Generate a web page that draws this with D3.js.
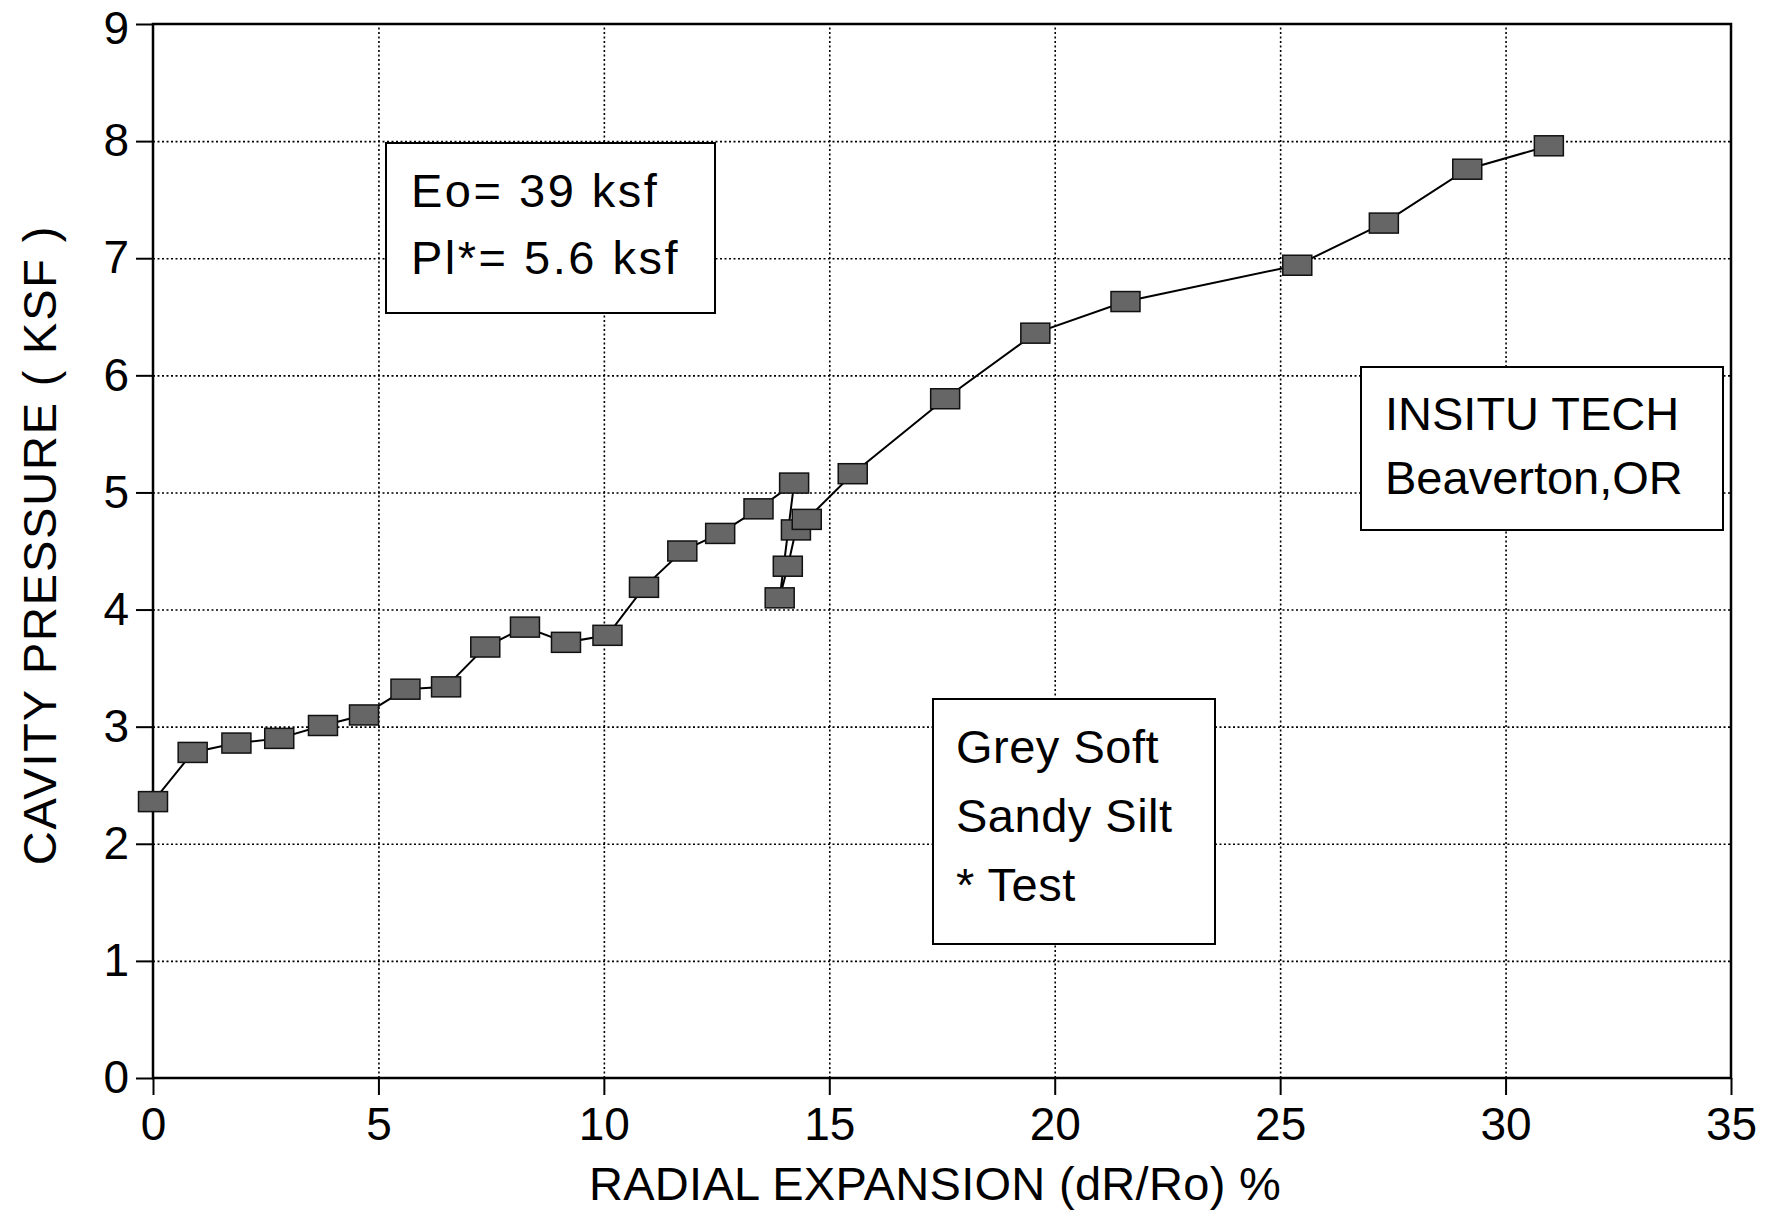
<!doctype html>
<head>
  <title>pressuremeter curve</title>
</head>

<style>
  body { margin: 0px; background-color: white; }
  text { font-family: "Liberation Sans", Arial, sans-serif; fill: black; }
  .grid line { stroke: black; stroke-width: 1.6; stroke-dasharray: 2,2.5; }
  .grid path { display: none; }
  .axis path { display: none; }
  .axis line { stroke: black; stroke-width: 2; }
</style>
<body>
  <script src="https://cdn.jsdelivr.net/npm/d3@7"></script>

  <svg id="chart" width="1771" height="1214"></svg>

  <script>

  // radial expansion (%) and cavity pressure (ksf), in test order (incl. unload/reload loop)
  const expansion = [0, 0.88, 1.85, 2.8, 3.77, 4.68, 5.6, 6.5, 7.37, 8.25, 9.16, 10.08, 10.89, 11.74, 12.58, 13.43, 14.22,
                     13.9, 14.08, 14.26, 14.5, 15.52, 17.57, 19.57, 21.57, 25.38, 27.3, 29.15, 30.96];
  const pressure  = [2.36, 2.78, 2.86, 2.9, 3.01, 3.1, 3.32, 3.34, 3.68, 3.85, 3.72, 3.78, 4.19, 4.5, 4.65, 4.86, 5.08,
                     4.1, 4.37, 4.68, 4.77, 5.16, 5.8, 6.36, 6.63, 6.94, 7.3, 7.76, 7.96];

  const xTicks = [0, 5, 10, 15, 20, 25, 30, 35];
  const yTicks = [0, 1, 2, 3, 4, 5, 6, 7, 8, 9];

  const xTitle = "RADIAL EXPANSION (dR/Ro) %";
  const yTitle = "CAVITY PRESSURE ( KSF )";

  const noteModulus = ["Eo= 39 ksf", "Pl*= 5.6 ksf"];
  const noteCompany = ["INSITU TECH", "Beaverton,OR"];
  const noteSoil    = ["Grey Soft", "Sandy Silt", "* Test"];

  let svg = d3.select("#chart");

  let plotL = 153, plotR = 1731, plotT = 24, plotB = 1078;

  let x = d3.scaleLinear().domain([0, 35]).range([plotL, plotR]);
  let y = d3.scaleLinear().domain([0, 9]).range([plotB, plotT]);

  // dotted grid
  svg.append("g")
    .attr("class", "grid")
    .attr("transform", "translate(0," + plotB + ")")
    .call(d3.axisBottom(x).tickValues(xTicks.slice(1, -1)).tickSize(-(plotB - plotT)).tickFormat(""));

  svg.append("g")
    .attr("class", "grid")
    .attr("transform", "translate(" + plotL + ",0)")
    .call(d3.axisLeft(y).tickValues(yTicks.slice(1, -1)).tickSize(-(plotR - plotL)).tickFormat(""));

  // text boxes sit on top of the grid, white filled
  function noteBox(x0, y0, x1, y1, lines, tx, ty, step, spacing) {
    let g = svg.append("g");
    g.append("rect")
      .attr("x", x0).attr("y", y0)
      .attr("width", x1 - x0).attr("height", y1 - y0)
      .attr("fill", "white")
      .attr("stroke", "black")
      .attr("stroke-width", 2);
    g.selectAll("text")
      .data(lines)
      .enter()
      .append("text")
      .attr("x", tx)
      .attr("y", (d, i) => ty + i * step)
      .attr("font-size", 47)
      .attr("letter-spacing", spacing)
      .text(d => d);
  }

  noteBox(386, 143, 715, 313, noteModulus, 411, 207, 67, 2.5);
  noteBox(1361, 367, 1723, 530, noteCompany, 1385, 430, 64, 0);
  noteBox(933, 699, 1215, 944, noteSoil, 956, 763, 69, 0.5);

  // frame
  svg.append("rect")
    .attr("x", plotL).attr("y", plotT)
    .attr("width", plotR - plotL).attr("height", plotB - plotT)
    .attr("fill", "none")
    .attr("stroke", "black")
    .attr("stroke-width", 2.5);

  // axes
  svg.append("g")
    .attr("class", "axis")
    .attr("transform", "translate(0," + plotB + ")")
    .call(d3.axisBottom(x).tickValues(xTicks).tickSize(17).tickSizeOuter(0).tickPadding(12))
    .selectAll("text")
    .attr("font-size", 46)
    .attr("font-family", "Liberation Sans, Arial, sans-serif");

  svg.append("g")
    .attr("class", "axis")
    .attr("transform", "translate(" + plotL + ",0)")
    .call(d3.axisLeft(y).tickValues(yTicks).tickSize(17).tickSizeOuter(0).tickPadding(7))
    .selectAll("text")
    .attr("font-size", 46)
    .attr("font-family", "Liberation Sans, Arial, sans-serif")
    .attr("dy", d => d === 9 ? "0.42em" : "0.32em");

  // axis titles
  svg.append("text")
    .attr("x", 935)
    .attr("y", 1200)
    .attr("text-anchor", "middle")
    .attr("font-size", 47)
    .attr("letter-spacing", 0.3)
    .text(xTitle);

  svg.append("text")
    .attr("transform", "translate(56,545) rotate(-90)")
    .attr("text-anchor", "middle")
    .attr("font-size", 47)
    .attr("letter-spacing", 1.8)
    .text(yTitle);

  // curve + square markers
  let points = expansion.map((d, i) => [d, pressure[i]]);

  svg.append("path")
    .datum(points)
    .attr("fill", "none")
    .attr("stroke", "black")
    .attr("stroke-width", 2)
    .attr("d", d3.line().x(d => x(d[0])).y(d => y(d[1])));

  svg.append("g")
    .selectAll("rect")
    .data(points)
    .enter()
    .append("rect")
    .attr("x", d => x(d[0]) - 14.5)
    .attr("y", d => y(d[1]) - 10)
    .attr("width", 29)
    .attr("height", 20)
    .attr("fill", "#666")
    .attr("stroke", "#111")
    .attr("stroke-width", 1.5);

  </script>

</body>
